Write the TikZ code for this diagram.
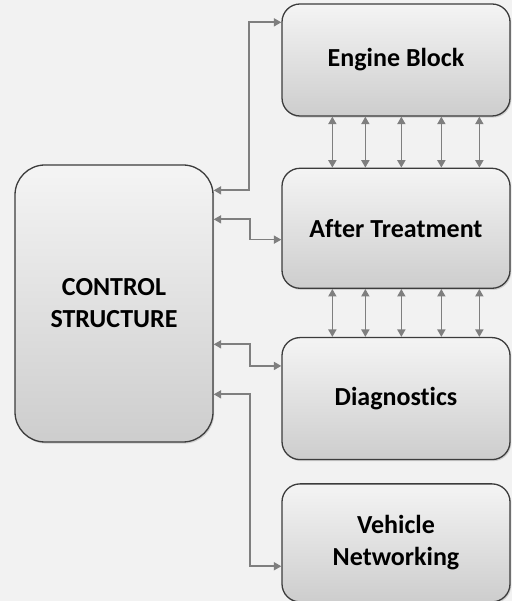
\documentclass[tikz,border=0pt]{standalone}
\usepackage{fontspec}
\setmainfont[Ligatures=NoCommon]{Carlito}
\usepackage{tikz}
\usetikzlibrary{arrows.meta,positioning,calc,shadows}
\definecolor{bgGray}{HTML}{F2F2F2}
\definecolor{boxGray}{HTML}{E4E4E4}
\definecolor{edgeGray}{HTML}{3C3C3C}
\definecolor{lineGray}{HTML}{7F7F7F}
\tikzset{
  blk/.style={draw=edgeGray, line width=1.3pt, rounded corners=18pt,
    top color=boxGray!40!white, middle color=boxGray, bottom color=boxGray!90!black,
    drop shadow={shadow xshift=1.2pt, shadow yshift=-1.6pt, opacity=.3},
    minimum width=228pt, align=center, font=\bfseries\fontsize{26}{32}\selectfont},
  bigblk/.style={blk, rounded corners=30pt},
  link/.style={lineGray, line width=1.7pt, {Triangle[length=7.5pt,width=8pt]}-{Triangle[length=7.5pt,width=8pt]}}
}

\begin{document}
\begin{tikzpicture}[x=1pt, y=1pt]
\useasboundingbox (0,0) rectangle (512,601);
\fill[bgGray] (0,0) rectangle (512,601);

\node[bigblk, minimum width=198pt, minimum height=277pt] (ctrl) at (114,297.5) {CONTROL\\STRUCTURE};

\node[blk, minimum height=112pt] (eng) at (396,541) {Engine Block};
\node[blk, below=51pt of eng, minimum height=120pt] (aft) {After Treatment};
\node[blk, below=48pt of aft, minimum height=122pt] (diag) {Diagnostics};
\node[blk, below=23pt of diag, minimum height=118pt] (veh) {Vehicle\\Networking};

% links between the stacked blocks
\foreach \dx in {51,84,120,160,198}{
  \draw[link] ($(eng.south west)+(\dx,0)$) -- ($(aft.north west)+(\dx,0)$);
  \draw[link] ($(aft.south west)+(\dx,0)$) -- ($(diag.north west)+(\dx,0)$);
}

% links from the control structure
\draw[link] ($(ctrl.north east)+(0,-26)$) -- ++(35,0) |- ($(eng.north west)+(0,-19)$);
\draw[link] ($(ctrl.north east)+(0,-55)$) -- ++(36,0) |- ($(aft.north west)+(0,-72)$);
\draw[link] ($(ctrl.north east)+(0,-180)$) -- ++(36,0) |- ($(diag.north west)+(0,-29)$);
\draw[link] ($(ctrl.north east)+(0,-230)$) -- ++(36,0) |- ($(veh.north west)+(0,-83)$);
\end{tikzpicture}
\end{document}
